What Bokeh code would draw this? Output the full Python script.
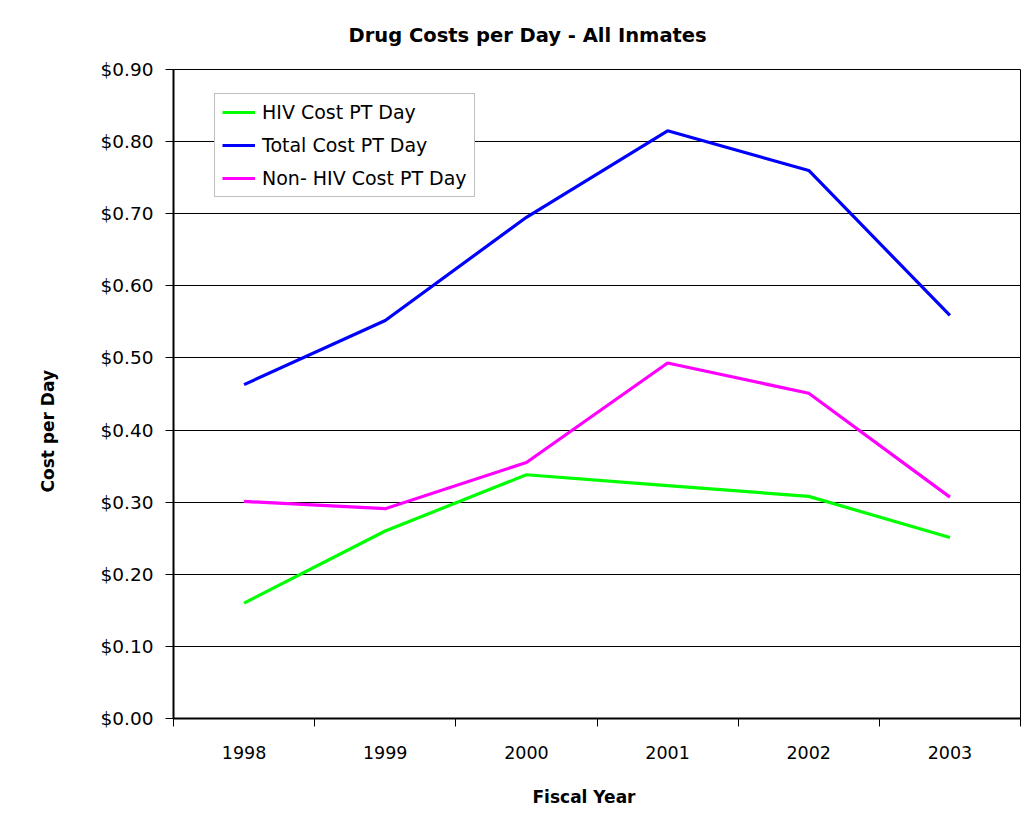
import math
from bokeh.plotting import figure
from bokeh.models import (FixedTicker, NumeralTickFormatter, Legend, LegendItem,
                          ColumnDataSource, Title)
from bokeh.embed import file_html
from bokeh.resources import INLINE

# ---- data ----
years = ["1998", "1999", "2000", "2001", "2002", "2003"]
hiv_cost = [0.160, 0.260, 0.338, 0.323, 0.308, 0.251]
total_cost = [0.463, 0.552, 0.695, 0.815, 0.760, 0.559]
non_hiv_cost = [0.301, 0.291, 0.355, 0.493, 0.451, 0.307]
y_ticks = [0.0, 0.1, 0.2, 0.3, 0.4, 0.5, 0.6, 0.7, 0.8, 0.9]

title_text = "Drug Costs per Day - All Inmates"
x_title = "Fiscal Year"
y_title = "Cost per Day"

FONT = "DejaVu Sans"

xs = [i + 0.5 for i in range(len(years))]

W, H = 1032, 836
FL, FR, FT, FB = 173, 12, 69, 118  # frame borders

p = figure(width=W, height=H, output_backend="svg", toolbar_location=None,
           x_range=(0, len(years)), y_range=(0, 0.9),
           min_border_left=FL, min_border_right=FR, min_border_top=FT, min_border_bottom=FB,
           title=None, background_fill_color="white", border_fill_color="white")

p.outline_line_color = "black"
p.outline_line_width = 1
p.outline_line_alpha = 1

# x axis: labels at category centres, ticks between categories
xt = FixedTicker(ticks=xs, minor_ticks=list(range(len(years) + 1)))
p.xaxis.ticker = xt
p.xaxis.major_label_overrides = {x: y for x, y in zip(xs, years)}
p.xaxis.major_tick_out = 0
p.xaxis.major_tick_in = 0
p.xaxis.minor_tick_out = 8
p.xaxis.minor_tick_in = 0
p.xaxis.minor_tick_line_color = "black"
p.xaxis.major_label_standoff = 19
p.xaxis.major_label_text_font = FONT
p.xaxis.major_label_text_font_size = "17.5px"
p.xaxis.major_label_text_color = "black"
p.xaxis.axis_line_color = "black"
p.xaxis.axis_line_width = 2

p.yaxis.ticker = FixedTicker(ticks=y_ticks)
p.yaxis.formatter = NumeralTickFormatter(format="$0.00")
p.yaxis.major_tick_out = 8
p.yaxis.major_tick_in = 0
p.yaxis.minor_tick_out = 0
p.yaxis.minor_tick_in = 0
p.yaxis.major_tick_line_color = "black"
p.yaxis.major_label_standoff = 12
p.yaxis.major_label_text_font = FONT
p.yaxis.major_label_text_font_size = "18.5px"
p.yaxis.major_label_text_color = "black"
p.yaxis.axis_line_color = "black"
p.yaxis.axis_line_width = 2

p.xgrid.grid_line_color = None
p.ygrid.ticker = FixedTicker(ticks=y_ticks)
p.ygrid.grid_line_color = "black"
p.ygrid.grid_line_width = 1

src = ColumnDataSource(dict(x=xs, hiv=hiv_cost, total=total_cost, nonhiv=non_hiv_cost))
r_hiv = p.line("x", "hiv", source=src, line_color="#00FF00", line_width=3.2)
r_tot = p.line("x", "total", source=src, line_color="#0000FF", line_width=3.2)
r_non = p.line("x", "nonhiv", source=src, line_color="#FF00FF", line_width=3.2)

legend = Legend(items=[
    LegendItem(label="HIV Cost PT Day", renderers=[r_hiv]),
    LegendItem(label="Total Cost PT Day", renderers=[r_tot]),
    LegendItem(label="Non- HIV Cost PT Day", renderers=[r_non]),
], location=(41, 521))
legend.label_text_font = FONT
legend.label_text_font_size = "19px"
legend.label_text_color = "black"
legend.glyph_width = 33
legend.glyph_height = 20
legend.label_height = 20
legend.label_standoff = 7
legend.spacing = 11
legend.padding = 7
legend.margin = 0
legend.border_line_color = "#808080"
legend.border_line_width = 1
legend.background_fill_color = "white"
legend.background_fill_alpha = 1
p.add_layout(legend, "center")

# title and axis titles
p.add_layout(Title(text=title_text, align="left", offset=175, standoff=42,
                   vertical_align="top", text_font=FONT, text_font_size="19.5px",
                   text_font_style="bold", text_color="black"), "above")
p.add_layout(Title(text=x_title, align="left", offset=359, standoff=48,
                   vertical_align="middle", text_font=FONT, text_font_size="17px",
                   text_font_style="bold", text_color="black"), "below")
p.add_layout(Title(text=y_title, align="left", offset=226, standoff=75,
                   vertical_align="top", text_font=FONT, text_font_size="17px",
                   text_font_style="bold", text_color="black"), "left")

open("out.html", "w").write(file_html(p, INLINE))
